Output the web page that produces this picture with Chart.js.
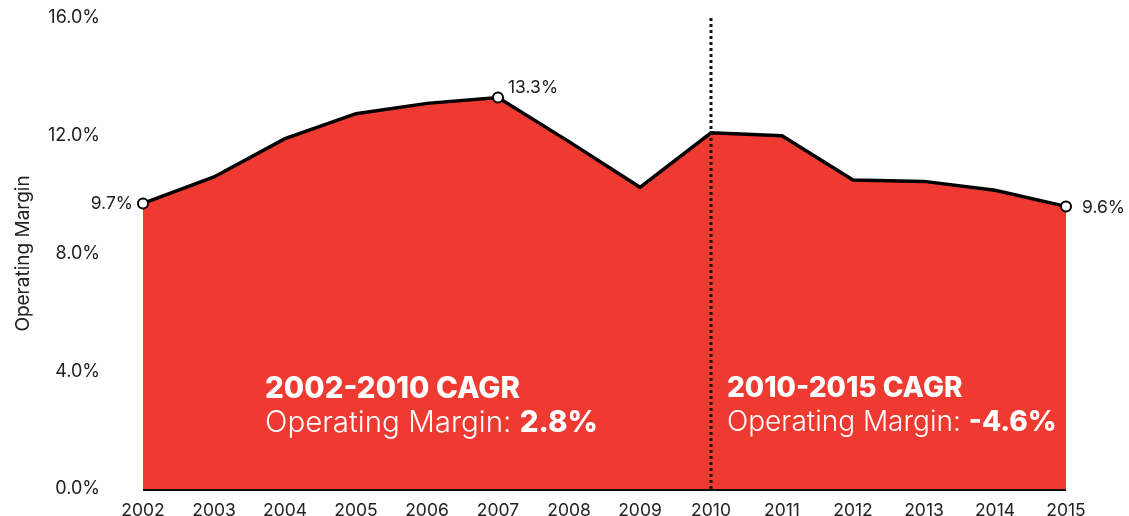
<!DOCTYPE html>
<html>
<head>
<meta charset="utf-8">
<script src="https://cdn.jsdelivr.net/npm/chart.js@4/dist/chart.umd.min.js"></script>
<style>
  html, body { margin: 0; padding: 0; background: #fff; }
  canvas { display: block; }
</style>
</head>
<body>
<canvas id="marginChart" width="1129" height="516"></canvas>
<script>
// Dati del grafico
const years = ["2002", "2003", "2004", "2005", "2006", "2007", "2008", "2009", "2010", "2011", "2012", "2013", "2014", "2015"];
const operatingMargin = [9.7, 10.6, 11.9, 12.75, 13.1, 13.3, 11.8, 10.25, 12.1, 12.0, 10.5, 10.45, 10.15, 9.6];
const yTicks = [0, 4, 8, 12, 16];
const labelledPoints = { 0: "left", 5: "above", 13: "right" };
const splitYear = "2010";
const periods = [
  { from: "2002", title: "2002-2010 CAGR", label: "Operating Margin: ", value: "2.8%", size: 29.5 },
  { from: "2010", title: "2010-2015 CAGR", label: "Operating Margin: ", value: "-4.6%", size: 28 },
];

const RED = "#EF3A31";
const FONT = "Inter, 'Noto Sans', sans-serif";

// Annotazioni: linea tratteggiata, etichette dei punti e testi CAGR
const annotations = {
  id: "annotations",
  beforeDatasetsDraw(chart) {
    const { ctx, chartArea, scales } = chart;
    ctx.save();
    ctx.strokeStyle = "#111";
    ctx.lineWidth = 2;
    ctx.beginPath();
    ctx.moveTo(chartArea.left, scales.y.getPixelForValue(0) + 1);
    ctx.lineTo(chartArea.right, scales.y.getPixelForValue(0) + 1);
    ctx.stroke();
    ctx.restore();
  },
  afterDatasetsDraw(chart) {
    const { ctx, chartArea, scales } = chart;
    const x = scales.x;
    const y = scales.y;
    const meta = chart.getDatasetMeta(0);

    // linea verticale tratteggiata
    const sx = x.getPixelForValue(years.indexOf(splitYear));
    ctx.save();
    ctx.strokeStyle = "#111";
    ctx.lineWidth = 3;
    ctx.setLineDash([3, 3]);
    ctx.beginPath();
    ctx.moveTo(sx, chartArea.top);
    ctx.lineTo(sx, y.getPixelForValue(0));
    ctx.stroke();
    ctx.restore();

    // etichette dei punti
    ctx.save();
    ctx.font = "17.5px " + FONT;
    ctx.fillStyle = "#222";
    ctx.textBaseline = "middle";
    Object.entries(labelledPoints).forEach(([i, pos]) => {
      const p = meta.data[i];
      const txt = operatingMargin[i].toFixed(1) + "%";
      if (pos === "left") {
        ctx.textAlign = "right";
        ctx.fillText(txt, p.x - 10, p.y);
      } else if (pos === "right") {
        ctx.textAlign = "left";
        ctx.fillText(txt, p.x + 16, p.y + 1);
      } else {
        ctx.textAlign = "left";
        ctx.fillText(txt, p.x + 10, p.y - 10);
      }
    });
    ctx.restore();

    // testi CAGR
    ctx.save();
    ctx.fillStyle = "#fff";
    ctx.textAlign = "left";
    ctx.textBaseline = "middle";
    periods.forEach((p, i) => {
      const left = i === 0 ? chartArea.left + 122 : x.getPixelForValue(years.indexOf(p.from)) + 16;
      ctx.font = `800 ${p.size}px ` + FONT;
      ctx.fillText(p.title, left, y.getPixelForValue(3.4));
      ctx.font = `300 ${p.size}px ` + FONT;
      ctx.fillText(p.label, left, y.getPixelForValue(2.24));
      const w = ctx.measureText(p.label).width;
      ctx.font = `800 ${p.size}px ` + FONT;
      ctx.fillText(p.value, left + w, y.getPixelForValue(2.24));
    });
    ctx.restore();
  },
};

const initializeChart = () => {
  const ctx = document.getElementById("marginChart").getContext("2d");
  new Chart(ctx, {
    type: "line",
    data: {
      labels: years,
      datasets: [
        {
          data: operatingMargin,
          borderColor: "#000",
          borderWidth: 3.5,
          backgroundColor: RED,
          fill: "origin",
          tension: 0,
          pointRadius: years.map((_, i) => (i in labelledPoints ? 5 : 0)),
          pointBackgroundColor: "#fff",
          pointBorderColor: "#000",
          pointBorderWidth: 2,
        },
      ],
    },
    options: {
      responsive: false,
      animation: false,
      layout: { padding: { top: 18, right: 63, left: 8, bottom: 0 } },
      plugins: {
        legend: { display: false },
        tooltip: { enabled: false },
      },
      scales: {
        x: {
          offset: false,
          grid: { display: false, drawTicks: false },
          border: { display: false },
          afterFit: (axis) => {
            axis.height = 27;
          },
          ticks: {
            color: "#222",
            font: { family: FONT, size: 17.5 },
            padding: 11,
            maxRotation: 0,
            autoSkip: false,
          },
        },
        y: {
          min: 0,
          max: 16,
          afterBuildTicks: (axis) => {
            axis.ticks = yTicks.map((v) => ({ value: v }));
          },
          afterFit: (axis) => {
            axis.width = 135;
            axis.paddingTop = 0;
            axis.paddingBottom = 0;
          },
          grid: { display: false, drawTicks: false },
          border: { display: false },
          title: {
            display: true,
            text: "Operating Margin",
            color: "#222",
            font: { family: FONT, size: 19 },
            padding: { top: 4, bottom: 0 },
          },
          ticks: {
            color: "#222",
            font: { family: FONT, size: 18 },
            padding: 43,
            callback: (v) => Number(v).toFixed(1) + "%",
          },
        },
      },
    },
    plugins: [annotations],
  });
};

document.addEventListener("DOMContentLoaded", initializeChart);
</script>
</body>
</html>
